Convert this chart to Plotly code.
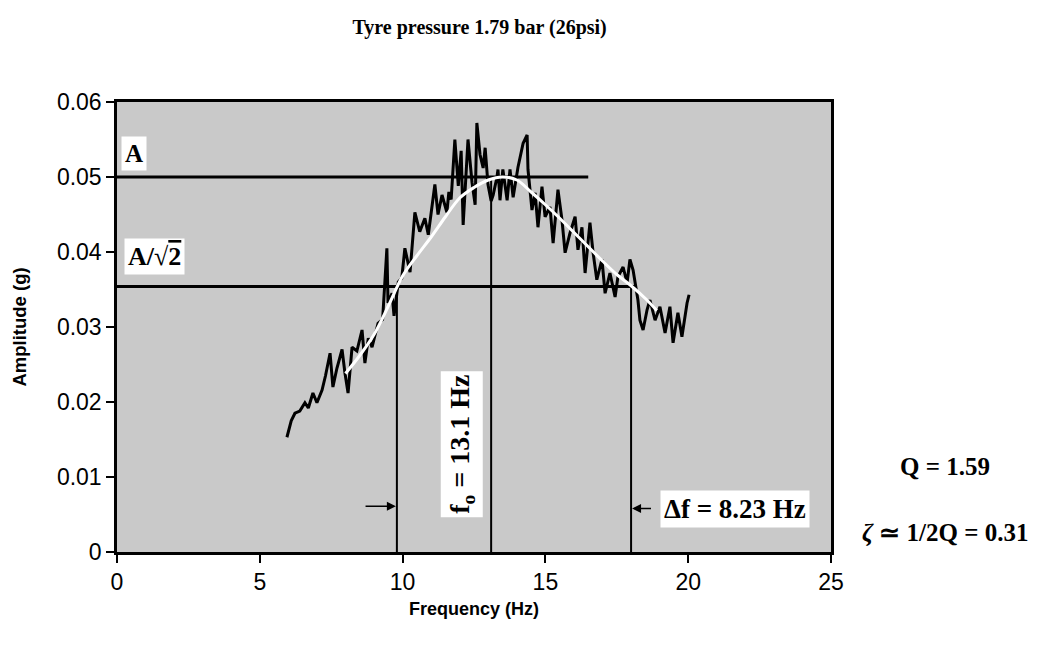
import plotly.graph_objects as go

# Measured response (noisy)
freq = [5.95, 6.1, 6.23, 6.4, 6.58, 6.7, 6.86, 7.0, 7.18, 7.3, 7.46, 7.56, 7.7, 7.88, 7.98,
        8.09, 8.23, 8.4, 8.58, 8.68, 8.8, 8.93, 9.14, 9.3, 9.45, 9.49, 9.63, 9.7, 9.85, 9.97,
        10.08, 10.26, 10.43, 10.6, 10.78, 10.9, 11.13, 11.24, 11.38, 11.55, 11.62, 11.7, 11.83,
        11.95, 12.05, 12.12, 12.29, 12.43, 12.54, 12.6, 12.71, 12.82, 12.89, 12.99, 13.1, 13.17,
        13.3, 13.34, 13.41, 13.51, 13.66, 13.76, 13.87, 14.04, 14.22, 14.36, 14.39, 14.53, 14.64,
        14.74, 14.88, 14.99, 15.16, 15.27, 15.44, 15.58, 15.69, 15.86, 16.04, 16.14, 16.28, 16.39,
        16.56, 16.67, 16.8, 16.98, 17.09, 17.26, 17.44, 17.54, 17.72, 17.86, 17.96, 18.07, 18.24,
        18.31, 18.42, 18.56, 18.66, 18.84, 19.01, 19.19, 19.36, 19.47, 19.64, 19.78, 19.96, 20.03]
amp = [0.0153, 0.0175, 0.0185, 0.0188, 0.0199, 0.0192, 0.0212, 0.0199, 0.0216, 0.0235, 0.0265, 0.0220, 0.0245, 0.0270, 0.0239,
       0.0212, 0.0273, 0.0268, 0.0296, 0.0252, 0.0285, 0.0273, 0.0305, 0.0310, 0.0405, 0.0332, 0.0345, 0.0315, 0.0360, 0.0365,
       0.0405, 0.0373, 0.0453, 0.0427, 0.0445, 0.0423, 0.0490, 0.0450, 0.0476, 0.0453, 0.0480, 0.0470, 0.0550,
       0.0488, 0.0535, 0.0436, 0.0550, 0.0493, 0.0463, 0.0572, 0.0530, 0.0512, 0.0539, 0.0490, 0.0468, 0.0476,
       0.0499, 0.0510, 0.0469, 0.0510, 0.0469, 0.0510, 0.0473, 0.0513, 0.0545, 0.0556, 0.0510, 0.0456, 0.0479,
       0.0433, 0.0487, 0.0447, 0.0460, 0.0412, 0.0483, 0.0443, 0.0399, 0.0425, 0.0447, 0.0403, 0.0433, 0.0372,
       0.0439, 0.0399, 0.0363, 0.0390, 0.0345, 0.0372, 0.0340, 0.0367, 0.0380, 0.0359, 0.0390, 0.0376, 0.0336,
       0.0309, 0.0296, 0.0323, 0.0336, 0.0309, 0.0327, 0.0292, 0.0327, 0.0279, 0.0319, 0.0287, 0.0332, 0.0343]

# Fitted resonance curve (white)
fit_freq = [8.0, 8.5, 9.0, 9.5, 10.0, 10.5, 11.0, 11.5, 12.0, 12.5, 13.0, 13.5, 14.0, 14.5,
            15.0, 15.5, 16.0, 16.5, 17.0, 17.5, 18.0, 18.5, 18.9]
fit_amp = [0.0238, 0.0262, 0.0290, 0.0328, 0.0368, 0.0395, 0.0420, 0.0447, 0.0472, 0.0486, 0.0496, 0.0500,
           0.0496, 0.0480, 0.0463, 0.0445, 0.0426, 0.0407, 0.0388, 0.0370, 0.0355, 0.0338, 0.0322]

# Reference levels and frequencies
peak_amp = 0.05
half_power_amp = 0.0354
peak_line_end = 16.5
half_line_end = 18.2
f_low = 9.8
f0 = 13.1
f_high = 18.0

x_ticks = [0, 5, 10, 15, 20, 25]
y_ticks = [0, 0.01, 0.02, 0.03, 0.04, 0.05, 0.06]
y_tick_labels = ["0", "0.01", "0.02", "0.03", "0.04", "0.05", "0.06"]

serif = "Liberation Serif, Times New Roman, serif"
sans = "Liberation Sans, Arial, sans-serif"

fig = go.Figure()

line_style = dict(color="black", width=3)
fig.add_trace(go.Scatter(x=[0, peak_line_end], y=[peak_amp, peak_amp], mode="lines", line=line_style, hoverinfo="skip"))
fig.add_trace(go.Scatter(x=[0, half_line_end], y=[half_power_amp, half_power_amp], mode="lines", line=line_style, hoverinfo="skip"))
vline = dict(color="black", width=2)
fig.add_trace(go.Scatter(x=[f_low, f_low], y=[0, half_power_amp], mode="lines", line=vline, hoverinfo="skip"))
fig.add_trace(go.Scatter(x=[f0, f0], y=[0, peak_amp], mode="lines", line=vline, hoverinfo="skip"))
fig.add_trace(go.Scatter(x=[f_high, f_high], y=[0, half_power_amp], mode="lines", line=vline, hoverinfo="skip"))

fig.add_trace(go.Scatter(x=freq, y=amp, mode="lines", line=dict(color="black", width=3)))
fig.add_trace(go.Scatter(x=fit_freq, y=fit_amp, mode="lines", line=dict(color="white", width=3, shape="spline")))

box = dict(bgcolor="white", borderpad=3)
fig.add_annotation(x=0.15, y=0.0532, text="<b>A</b>", showarrow=False, xanchor="left",
                   font=dict(family=serif, size=25, color="black"), **box)
fig.add_annotation(x=0.25, y=0.0394, text="<b>A/√<span style='text-decoration:overline'>2</span></b>",
                   showarrow=False, xanchor="left",
                   font=dict(family=serif, size=26, color="black"), **box)
fig.add_annotation(x=12.08, y=0.0143, text="<b>f<sub>o</sub> = 13.1 Hz</b>", showarrow=False, textangle=-90,
                   font=dict(family=serif, size=28, color="black"), **box)
fig.add_annotation(x=21.65, y=0.0058, text="<b>Δf = 8.23 Hz</b>", showarrow=False,
                   font=dict(family=serif, size=27, color="black"), **box)

# arrows
fig.add_annotation(x=f_low, y=0.0061, ax=f_low - 1.15, ay=0.0061, axref="x", ayref="y",
                   xref="x", yref="y", text="", showarrow=True, arrowhead=2, arrowsize=1.2,
                   arrowwidth=1.5, arrowcolor="black", standoff=1)
fig.add_annotation(x=f_high, y=0.0058, ax=f_high + 0.75, ay=0.0058, axref="x", ayref="y",
                   xref="x", yref="y", text="", showarrow=True, arrowhead=2, arrowsize=1.2,
                   arrowwidth=1.5, arrowcolor="black", standoff=1)

fig.add_annotation(xref="paper", yref="paper", x=1.159, y=0.191, xanchor="center", yanchor="middle",
                   text="<b>Q = 1.59</b>", showarrow=False,
                   font=dict(family=serif, size=25, color="black"))
fig.add_annotation(xref="paper", yref="paper", x=1.159, y=0.044, xanchor="center", yanchor="middle",
                   text="<b><i>ζ</i> ≃ 1/2Q = 0.31</b>", showarrow=False,
                   font=dict(family=serif, size=25, color="black"))

fig.update_layout(
    width=1045, height=647,
    margin=dict(l=117, r=214, t=102, b=95),
    paper_bgcolor="white",
    plot_bgcolor="#c9c9c9",
    showlegend=False,
    title=dict(text="<b>Tyre pressure 1.79 bar (26psi)</b>", x=0.459, xanchor="center", y=0.958,
               yanchor="middle", font=dict(family=serif, size=20, color="black")),
    xaxis=dict(range=[0, 25], tickvals=x_ticks, ticks="outside", ticklen=8, tickcolor="black", tickwidth=1.5,
               showgrid=False, zeroline=False, showline=True, linecolor="black", linewidth=2.5, mirror=True,
               tickfont=dict(family=sans, size=23, color="black"),
               title=dict(text="<b>Frequency (Hz)</b>", font=dict(family=sans, size=18, color="black"), standoff=9)),
    yaxis=dict(range=[0, 0.06], tickvals=y_ticks, ticktext=y_tick_labels, ticks="outside", ticklen=8,
               tickcolor="black", tickwidth=1.5, showgrid=False, zeroline=False, showline=True, linecolor="black",
               linewidth=2.5, mirror=True, tickfont=dict(family=sans, size=23, color="black"),
               title=dict(text="<b>Amplitude (g)</b>", font=dict(family=sans, size=18.5, color="black"), standoff=26)),
)

fig.write_html("out.html")
